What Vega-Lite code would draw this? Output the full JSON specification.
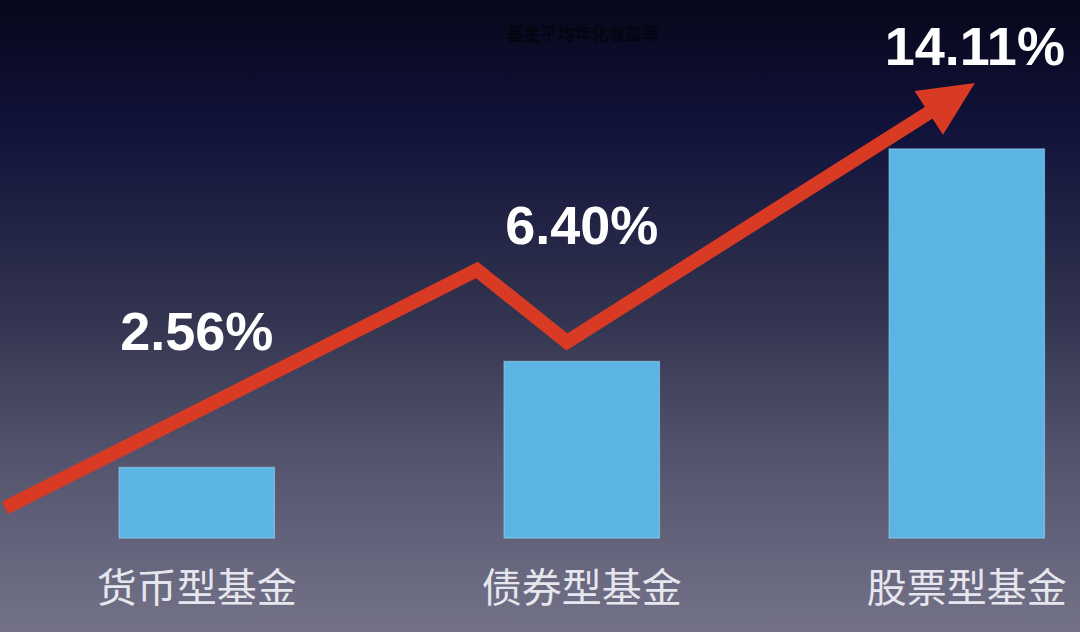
{
  "$schema": "https://vega.github.io/schema/vega-lite/v6.json",
  "width": 1080,
  "height": 632,
  "autosize": {"type": "none"},
  "padding": 0,
  "background": "#0b0b1e",
  "config": {
    "view": {
      "stroke": null,
      "fill": {
        "gradient": "linear", "x1": 0, "y1": 0, "x2": 0, "y2": 1,
        "stops": [
          {"offset": 0, "color": "#07071a"},
          {"offset": 0.2, "color": "#11123a"},
          {"offset": 0.5, "color": "#32344f"},
          {"offset": 0.72, "color": "#53536d"},
          {"offset": 1, "color": "#737288"}
        ]
      }
    }
  },
  "title": {
    "text": "基金平均年化收益率",
    "font": "Noto Sans CJK SC",
    "fontSize": 17,
    "fontWeight": "bold",
    "color": "#050510",
    "anchor": "middle",
    "dx": 43,
    "offset": -44
  },
  "datasets": {
    "funds": [
      {"fund": "货币型基金", "ret": 2.56, "label": "2.56%"},
      {"fund": "债券型基金", "ret": 6.40, "label": "6.40%"},
      {"fund": "股票型基金", "ret": 14.11, "label": "14.11%"}
    ],
    "arrow": [
      {"pos": -0.499, "ret": 1.09},
      {"pos": 0.727, "ret": 9.72},
      {"pos": 0.961, "ret": 7.11},
      {"pos": 1.917, "ret": 15.56}
    ],
    "head": [
      {"pos": 1.961, "ret": 15.96}
    ]
  },
  "layer": [
    {
      "data": {"name": "funds"},
      "encoding": {
        "x": {
          "field": "fund", "type": "nominal", "sort": null,
          "scale": {"paddingInner": 0.597, "paddingOuter": 0.201, "align": 0.77},
          "axis": null
        }
      },
      "layer": [
        {
          "mark": {"type": "bar", "color": "#5bb4e3", "stroke": "#8ed2f4", "strokeWidth": 1.5, "strokeOpacity": 0.6},
          "encoding": {
            "y": {
              "field": "ret", "type": "quantitative",
              "scale": {"domain": [-3.41, 19.51], "nice": false, "zero": false},
              "axis": null
            },
            "y2": {"datum": 0}
          }
        },
        {
          "transform": [{"filter": "datum.ret < 10"}],
          "mark": {"type": "text", "font": "Liberation Sans", "fontWeight": "bold", "fontSize": 54, "color": "#ffffff", "baseline": "alphabetic", "dy": -117},
          "encoding": {
            "y": {"field": "ret", "type": "quantitative"},
            "text": {"field": "label"}
          }
        },
        {
          "transform": [{"filter": "datum.ret >= 10"}],
          "mark": {"type": "text", "font": "Liberation Sans", "fontWeight": "bold", "fontSize": 54, "color": "#ffffff", "baseline": "alphabetic", "dy": -84, "dx": 8},
          "encoding": {
            "y": {"field": "ret", "type": "quantitative"},
            "text": {"field": "label"}
          }
        },
        {
          "mark": {"type": "text", "font": "Noto Sans CJK SC", "fontSize": 40, "color": "#e6e6ee", "baseline": "middle"},
          "encoding": {
            "y": {"datum": -1.89},
            "text": {"field": "fund"}
          }
        }
      ]
    },
    {
      "layer": [
        {
          "data": {"name": "arrow"},
          "mark": {"type": "line", "color": "#d93a24", "strokeWidth": 14, "strokeJoin": "miter", "strokeCap": "butt"},
          "encoding": {
            "x": {"field": "pos", "type": "quantitative", "scale": {"domain": [-0.512, 2.294], "nice": false, "zero": false}, "axis": null},
            "y": {"field": "ret", "type": "quantitative"}
          }
        },
        {
          "data": {"name": "head"},
          "mark": {"type": "point", "shape": "M-1,-0.95L1,0L-1,0.95Z", "filled": true, "color": "#d93a24", "opacity": 1, "size": 3025, "angle": -33},
          "encoding": {
            "x": {"field": "pos", "type": "quantitative"},
            "y": {"field": "ret", "type": "quantitative"}
          }
        }
      ]
    }
  ],
  "resolve": {"scale": {"x": "independent"}}
}
